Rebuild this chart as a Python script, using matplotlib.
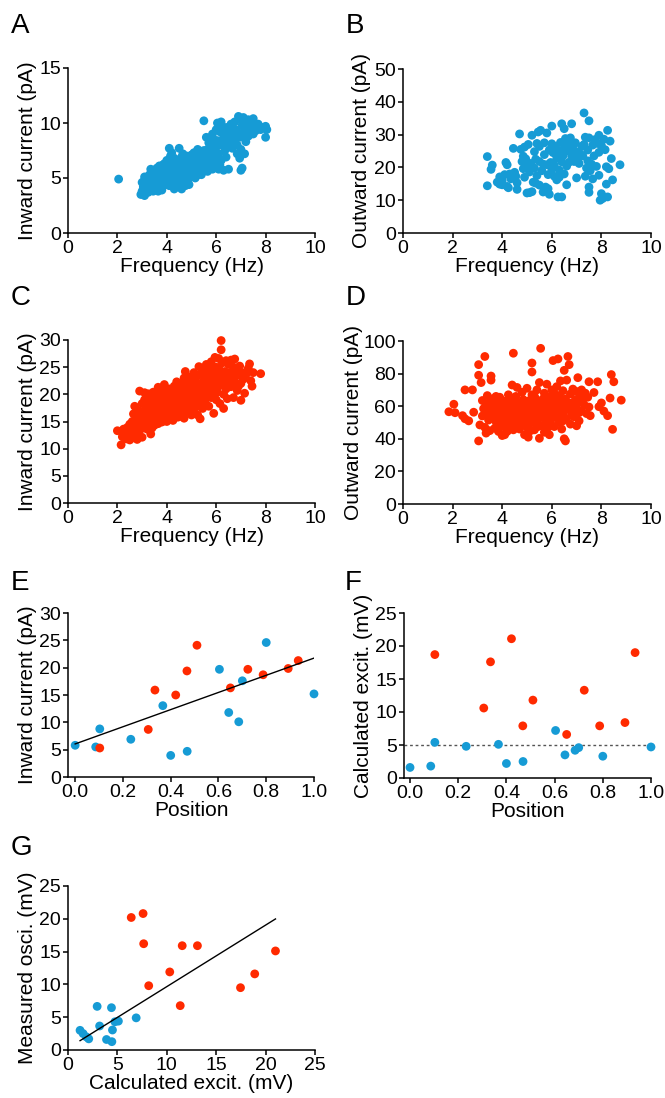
"""Frequency / position scatter panels A-G (blue = one cell type, red = the other)."""
import matplotlib
matplotlib.use("Agg")
import matplotlib.pyplot as plt
import numpy as np

plt.rcParams["font.family"] = ["Liberation Sans", "DejaVu Sans"]

BLUE = "#169bd5"
RED = "#ff2a00"

# ---- A: frequency (Hz) vs inward current (pA), blue
panel_a = [
    (2.05, 4.9),
    (2.95, 3.5), (3.0, 3.8), (3.05, 4.2), (3.1, 3.4), (3.0, 4.6), (3.1, 5.1), (3.15, 4.0), (3.2, 4.5),
    (3.25, 3.7), (3.3, 4.9), (3.3, 5.3), (3.35, 4.2), (3.4, 3.9), (3.4, 5.6), (3.45, 4.6), (3.5, 5.1),
    (3.5, 4.0), (3.2, 5.0), (3.35, 5.8), (3.45, 3.8), (3.1, 4.8), (3.55, 5.5),
    (3.6, 4.8), (3.6, 5.9), (3.65, 4.2), (3.7, 5.3), (3.7, 6.1), (3.75, 4.6), (3.8, 5.7), (3.8, 3.9),
    (3.85, 5.0), (3.9, 6.3), (3.9, 5.5), (3.95, 4.4), (4.0, 5.9), (4.0, 6.6), (3.65, 3.8), (3.75, 5.0),
    (3.85, 6.2), (3.95, 5.2), (3.55, 4.4), (3.7, 4.0), (3.8, 6.0), (4.0, 4.8),
    (4.05, 5.4), (4.05, 6.2), (4.1, 7.7), (4.1, 4.3), (4.15, 5.8), (4.15, 7.0), (4.2, 5.1), (4.2, 6.5),
    (4.25, 4.7), (4.25, 6.0), (4.3, 5.5), (4.3, 6.8), (4.35, 4.9), (4.35, 6.2), (4.4, 5.7), (4.4, 4.2),
    (4.45, 6.5), (4.45, 5.2), (4.5, 7.7), (4.5, 6.0), (4.5, 4.5), (4.1, 6.7), (4.3, 4.0), (4.2, 7.3),
    (4.55, 5.5), (4.6, 4.0), (4.6, 6.3), (4.65, 7.2), (4.65, 5.0), (4.7, 5.8), (4.7, 6.7), (4.75, 4.3),
    (4.75, 6.1), (4.8, 5.4), (4.8, 7.0), (4.85, 6.5), (4.85, 4.8), (4.9, 5.9), (4.9, 6.9), (4.95, 5.2),
    (5.0, 6.3), (5.0, 7.1), (4.6, 6.9), (4.7, 4.6), (4.9, 4.4), (5.0, 5.6),
    (5.05, 6.8), (5.1, 5.7), (5.1, 7.3), (5.15, 6.2), (5.2, 5.2), (5.2, 6.9), (5.25, 6.5), (5.3, 7.4),
    (5.3, 5.6), (5.35, 6.1), (5.4, 7.0), (5.4, 5.3), (5.45, 6.6), (5.5, 7.5), (5.5, 5.8), (5.5, 10.2),
    (5.15, 5.0), (5.25, 7.6), (5.35, 6.8), (5.45, 6.0),
    (5.55, 6.9), (5.6, 8.7), (5.6, 6.3), (5.65, 7.6), (5.7, 5.9), (5.7, 8.2), (5.75, 7.0), (5.8, 6.5),
    (5.8, 7.9), (5.85, 5.8), (5.9, 7.4), (5.9, 8.5), (5.95, 6.7), (6.0, 9.4), (6.0, 7.8), (6.0, 6.1),
    (5.65, 5.6), (5.85, 9.0),
    (6.05, 10.0), (6.05, 8.4), (6.1, 5.8), (6.1, 7.2), (6.15, 9.2), (6.2, 8.0), (6.2, 6.6), (6.25, 9.7),
    (6.3, 8.7), (6.3, 5.7), (6.35, 7.5), (6.35, 9.3), (6.4, 8.2), (6.4, 6.9), (6.45, 9.6), (6.5, 8.8),
    (6.5, 5.8), (6.2, 10.1), (6.45, 7.8), (6.15, 6.2),
    (6.55, 9.2), (6.6, 8.4), (6.6, 9.9), (6.65, 7.7), (6.7, 9.0), (6.75, 8.5), (6.75, 10.1), (6.8, 9.4),
    (6.85, 8.0), (6.85, 7.2), (6.9, 10.6), (6.9, 9.1), (6.95, 8.7), (7.0, 10.3), (7.0, 7.6), (7.0, 5.7),
    (6.65, 9.5), (6.95, 6.8),
    (7.05, 9.8), (7.05, 5.9), (7.1, 8.9), (7.1, 10.5), (7.15, 7.2), (7.15, 9.4), (7.2, 10.0), (7.2, 8.3),
    (7.25, 9.6), (7.3, 10.3), (7.3, 8.8), (7.35, 9.2), (7.4, 10.1), (7.45, 9.5), (7.5, 10.4), (7.5, 9.0),
    (7.55, 9.8), (7.6, 9.3), (7.7, 9.9), (7.8, 9.4), (7.9, 9.6), (8.0, 9.7), (8.0, 8.7), (8.05, 9.4),
]

# ---- B: frequency (Hz) vs outward current (pA), blue
panel_b = [
    (3.4, 23.3), (3.4, 14.4), (3.6, 20.7), (3.55, 19.4),
    (3.8, 15.5), (3.9, 17.1), (4.0, 16.0), (4.0, 14.7), (4.1, 17.8), (4.15, 21.5), (4.2, 20.8),
    (4.2, 14.2), (4.3, 18.0), (4.35, 16.5), (3.9, 14.9), (4.25, 13.8),
    (4.45, 25.8), (4.5, 18.5), (4.55, 17.3), (4.6, 15.3), (4.6, 13.3), (4.7, 30.2), (4.75, 25.5),
    (4.8, 21.8), (4.85, 19.6), (4.9, 26.2), (4.9, 17.0), (4.95, 22.6), (5.0, 12.2), (5.0, 20.3),
    (4.85, 23.4),
    (5.05, 27.0), (5.1, 18.6), (5.1, 12.3), (5.15, 21.2), (5.2, 29.8), (5.25, 15.5), (5.3, 19.8),
    (5.3, 24.8), (5.35, 22.5), (5.4, 27.3), (5.4, 17.5), (5.45, 30.8), (5.5, 14.6), (5.5, 21.8),
    (5.5, 26.4), (5.2, 12.6), (5.35, 15.2),
    (5.55, 31.3), (5.6, 19.0), (5.65, 12.5), (5.7, 23.9), (5.7, 27.5), (5.75, 14.0), (5.8, 20.8),
    (5.8, 30.5), (5.85, 17.8), (5.9, 25.3), (5.9, 11.8), (5.95, 21.5), (6.0, 27.2), (6.0, 19.5),
    (6.0, 32.6), (5.85, 13.5), (5.65, 21.0),
    (6.05, 24.5), (6.1, 17.3), (6.1, 20.6), (6.15, 26.4), (6.2, 22.8), (6.2, 16.2), (6.25, 11.0),
    (6.3, 25.0), (6.3, 19.2), (6.35, 27.6), (6.4, 33.3), (6.4, 21.7), (6.4, 11.0), (6.45, 23.5),
    (6.5, 26.8), (6.5, 18.0), (6.5, 31.8), (6.3, 17.0),
    (6.55, 28.8), (6.6, 25.0), (6.6, 14.7), (6.65, 27.6), (6.7, 21.6), (6.7, 26.2), (6.75, 29.0),
    (6.8, 33.3), (6.8, 23.4), (6.85, 26.5), (6.9, 21.8), (6.95, 27.5), (7.0, 16.8), (7.0, 24.6),
    (6.6, 20.4), (6.9, 25.0),
    (7.05, 22.4), (7.1, 21.2), (7.15, 24.1), (7.2, 26.4), (7.25, 23.5), (7.3, 36.6), (7.35, 29.2),
    (7.35, 17.3), (7.4, 19.8), (7.45, 25.3), (7.5, 34.2), (7.5, 14.0), (7.5, 12.4), (7.45, 22.0),
    (7.3, 27.0), (7.5, 29.0),
    (7.55, 19.0), (7.6, 21.0), (7.65, 26.8), (7.7, 23.5), (7.75, 28.5), (7.8, 20.3), (7.85, 27.3),
    (7.9, 29.8), (7.9, 24.6), (7.95, 10.0), (8.0, 26.7), (8.0, 12.0), (7.9, 17.6), (7.65, 16.5),
    (8.05, 10.5), (8.1, 28.6), (8.1, 11.0), (8.15, 25.4), (8.2, 14.9), (8.2, 20.2), (8.25, 31.3),
    (8.3, 19.6), (8.35, 28.0), (8.45, 16.2), (8.75, 20.8), (8.25, 11.0), (8.4, 22.7),
]

# ---- C: frequency (Hz) vs inward current (pA), red
panel_c = [
    (2.0, 13.3), (2.15, 10.7), (2.2, 12.2), (2.3, 12.8), (2.35, 11.8), (2.4, 13.9), (2.45, 12.4),
    (2.5, 14.5), (2.25, 13.6), (2.5, 11.6),
    (2.55, 13.2), (2.6, 15.0), (2.6, 12.0), (2.65, 16.4), (2.7, 17.8), (2.7, 13.5), (2.75, 14.6),
    (2.8, 11.7), (2.8, 15.8), (2.85, 13.0), (2.85, 17.0), (2.9, 20.6), (2.9, 14.2), (2.95, 16.2),
    (3.0, 12.1), (3.0, 18.3), (3.0, 15.3), (2.75, 12.6), (2.95, 13.6), (2.65, 14.0),
    (3.05, 16.8), (3.05, 14.1), (3.1, 19.0), (3.1, 20.3), (3.15, 15.5), (3.15, 17.6), (3.2, 13.6),
    (3.2, 18.8), (3.25, 16.2), (3.25, 20.1), (3.3, 14.7), (3.3, 17.3), (3.35, 12.7), (3.35, 19.4),
    (3.4, 15.8), (3.4, 18.2), (3.45, 20.4), (3.45, 16.6), (3.5, 14.3), (3.5, 17.8), (3.5, 19.8),
    (3.3, 15.9), (3.2, 16.9), (3.4, 13.8),
    (3.55, 15.3), (3.55, 18.7), (3.6, 16.5), (3.6, 20.2), (3.65, 17.4), (3.65, 14.6), (3.7, 19.3),
    (3.7, 15.8), (3.75, 18.0), (3.75, 21.0), (3.8, 16.9), (3.8, 14.9), (3.85, 19.7), (3.85, 17.8),
    (3.9, 21.8), (3.9, 15.6), (3.95, 18.6), (3.95, 16.3), (4.0, 20.5), (4.0, 17.2), (4.0, 15.0),
    (3.6, 18.0), (3.7, 17.0), (3.8, 19.0), (3.9, 18.1), (3.65, 21.3),
    (4.05, 19.0), (4.05, 16.1), (4.1, 18.2), (4.1, 21.0), (4.15, 15.5), (4.15, 17.5), (4.2, 20.2),
    (4.2, 16.8), (4.25, 18.7), (4.25, 15.2), (4.3, 21.5), (4.3, 17.9), (4.35, 19.6), (4.35, 16.4),
    (4.4, 22.3), (4.4, 18.4), (4.45, 15.8), (4.45, 20.5), (4.5, 17.2), (4.5, 19.3), (4.5, 21.3),
    (4.1, 19.6), (4.2, 18.0), (4.4, 17.0), (4.3, 15.9),
    (4.55, 16.0), (4.55, 18.6), (4.6, 20.4), (4.6, 22.0), (4.65, 17.4), (4.65, 19.5), (4.7, 15.6),
    (4.7, 21.1), (4.75, 18.2), (4.75, 24.2), (4.8, 16.8), (4.8, 20.0), (4.85, 22.5), (4.85, 18.9),
    (4.9, 17.6), (4.9, 21.4), (4.95, 19.7), (4.95, 23.2), (5.0, 18.3), (5.0, 20.8), (5.0, 16.2),
    (4.6, 18.0), (4.8, 19.2), (4.7, 23.0),
    (5.05, 22.2), (5.05, 19.2), (5.1, 24.0), (5.1, 17.3), (5.15, 20.6), (5.15, 21.8), (5.2, 18.5),
    (5.2, 23.3), (5.25, 16.2), (5.25, 20.1), (5.3, 25.1), (5.3, 22.0), (5.35, 18.9), (5.35, 15.5),
    (5.4, 21.3), (5.4, 23.8), (5.45, 19.8), (5.45, 17.4), (5.5, 22.6), (5.5, 24.6), (5.5, 20.5),
    (5.2, 19.6), (5.4, 20.4), (5.3, 17.8),
    (5.55, 18.6), (5.55, 23.3), (5.6, 21.2), (5.6, 25.5), (5.65, 19.7), (5.65, 22.4), (5.7, 24.4),
    (5.7, 17.8), (5.75, 20.8), (5.75, 23.0), (5.8, 26.0), (5.8, 19.4), (5.85, 22.0), (5.85, 24.8),
    (5.9, 20.3), (5.9, 16.5), (5.95, 23.6), (5.95, 26.8), (6.0, 21.6), (6.0, 25.0), (6.0, 19.0),
    (5.6, 20.0), (5.8, 21.7), (5.7, 22.8),
    (6.05, 23.0), (6.05, 20.4), (6.1, 24.8), (6.1, 26.6), (6.15, 21.6), (6.15, 18.3), (6.2, 23.7),
    (6.2, 29.9), (6.2, 28.2), (6.25, 22.2), (6.25, 25.8), (6.3, 20.0), (6.3, 17.4), (6.35, 24.2),
    (6.35, 22.6), (6.4, 26.2), (6.4, 21.0), (6.45, 23.4), (6.45, 19.2), (6.5, 25.5), (6.5, 22.0),
    (6.1, 22.5), (6.3, 23.8),
    (6.55, 24.0), (6.6, 26.3), (6.6, 21.4), (6.65, 23.2), (6.7, 19.4), (6.7, 25.0), (6.75, 26.5),
    (6.75, 22.3), (6.8, 24.3), (6.85, 20.7), (6.9, 23.5), (6.95, 25.2), (7.0, 22.0), (7.0, 18.9),
    (6.9, 21.5),
    (7.05, 24.0), (7.1, 22.8), (7.15, 20.2), (7.2, 23.6), (7.3, 24.8), (7.35, 25.6), (7.4, 22.5),
    (7.45, 21.5), (7.5, 24.0), (7.8, 23.8),
]

# ---- D: frequency (Hz) vs outward current (pA), red
panel_d = [
    (1.85, 56.6), (2.05, 61.2), (2.1, 56.0), (2.4, 54.2), (2.5, 52.3), (2.5, 70.0), (2.65, 51.0),
    (2.8, 70.0), (2.85, 56.3),
    (3.05, 85.5), (3.05, 79.0), (3.05, 38.7), (3.1, 48.5), (3.15, 74.5), (3.2, 63.5), (3.25, 58.5),
    (3.3, 90.5), (3.3, 47.0), (3.35, 43.5), (3.35, 60.5), (3.4, 55.5), (3.4, 66.5), (3.45, 51.5),
    (3.5, 62.5), (3.5, 45.0), (3.55, 78.5), (3.55, 76.0), (3.2, 54.0), (3.45, 58.0),
    (3.6, 64.5), (3.6, 53.0), (3.65, 57.5), (3.7, 46.5), (3.7, 60.0), (3.75, 50.5), (3.8, 63.0),
    (3.85, 55.0), (3.9, 65.5), (3.9, 48.5), (3.95, 58.5), (4.0, 52.5), (4.0, 42.0), (4.0, 61.0),
    (3.75, 66.0), (3.85, 44.5),
    (4.05, 56.0), (4.05, 47.5), (4.1, 63.0), (4.15, 50.0), (4.2, 59.0), (4.2, 44.5), (4.25, 54.5),
    (4.3, 61.5), (4.3, 48.0), (4.35, 57.0), (4.35, 65.0), (4.4, 51.5), (4.4, 73.0), (4.45, 92.5),
    (4.45, 45.5), (4.5, 60.0), (4.5, 55.0), (4.15, 58.0), (4.25, 67.0), (4.45, 63.5), (4.1, 42.5),
    (4.55, 49.0), (4.55, 66.0), (4.6, 57.5), (4.6, 71.5), (4.65, 52.0), (4.7, 62.0), (4.7, 46.0),
    (4.75, 59.5), (4.8, 54.0), (4.8, 68.5), (4.85, 49.5), (4.85, 64.0), (4.9, 57.0), (4.9, 42.5),
    (4.95, 61.0), (5.0, 52.5), (5.0, 71.0), (5.0, 47.0), (4.65, 55.0), (4.75, 51.0), (4.95, 55.5),
    (4.6, 61.5),
    (5.05, 58.5), (5.05, 41.0), (5.1, 63.5), (5.1, 49.5), (5.15, 55.0), (5.2, 86.5), (5.2, 81.0),
    (5.2, 67.0), (5.25, 52.0), (5.25, 60.0), (5.3, 45.5), (5.3, 57.0), (5.35, 64.5), (5.35, 50.0),
    (5.4, 70.0), (5.4, 55.5), (5.45, 61.0), (5.45, 47.5), (5.5, 40.3), (5.5, 74.5), (5.5, 58.5),
    (5.15, 45.0), (5.3, 66.0), (5.45, 52.5), (5.1, 59.0),
    (5.55, 95.5), (5.55, 53.0), (5.6, 62.5), (5.6, 48.0), (5.65, 57.0), (5.7, 68.0), (5.7, 44.0),
    (5.75, 60.0), (5.75, 51.5), (5.8, 55.0), (5.8, 73.5), (5.85, 63.5), (5.85, 47.0), (5.9, 58.0),
    (5.9, 42.5), (5.95, 66.0), (6.0, 52.5), (6.0, 61.0), (6.0, 70.0), (5.65, 64.5), (5.95, 49.5),
    (5.7, 56.0),
    (6.05, 88.0), (6.05, 56.0), (6.1, 64.0), (6.1, 47.5), (6.15, 59.5), (6.2, 53.0), (6.2, 72.0),
    (6.25, 89.0), (6.25, 61.5), (6.3, 50.0), (6.3, 66.5), (6.35, 57.0), (6.35, 75.5), (6.4, 63.0),
    (6.4, 46.0), (6.45, 55.0), (6.45, 69.5), (6.5, 82.0), (6.5, 40.0), (6.5, 60.5), (6.15, 67.0),
    (6.3, 58.5), (6.45, 51.0),
    (6.55, 38.7), (6.55, 64.5), (6.6, 52.5), (6.6, 76.0), (6.65, 90.5), (6.65, 58.0), (6.7, 85.5),
    (6.7, 62.0), (6.75, 49.0), (6.75, 67.5), (6.8, 56.0), (6.85, 61.5), (6.85, 70.5), (6.9, 53.5),
    (6.95, 64.0), (7.0, 58.5), (7.0, 48.0), (7.0, 69.0), (6.6, 60.0), (6.9, 59.0),
    (7.05, 77.5), (7.05, 62.0), (7.1, 51.0), (7.15, 66.0), (7.2, 57.0), (7.25, 64.5), (7.3, 61.0),
    (7.35, 68.0), (7.4, 55.5), (7.45, 65.5), (7.5, 75.0), (7.5, 59.5), (7.2, 70.0), (7.1, 56.0),
    (7.55, 54.2), (7.7, 68.4), (7.85, 75.0), (7.9, 59.7), (8.0, 62.0), (8.1, 57.0), (8.25, 54.2),
    (8.35, 65.0), (8.4, 79.4), (8.45, 45.8), (8.5, 75.0), (8.8, 63.7),
]

# ---- E / F: dendritic position (0..1) per recorded cell
e_pos_blue = [0.0, 0.086, 0.103, 0.233, 0.367, 0.40, 0.469, 0.604, 0.643, 0.685, 0.70, 0.80, 1.0]
e_inward_blue = [5.8, 5.5, 8.8, 6.9, 13.05, 3.95, 4.7, 19.7, 11.8, 10.1, 17.6, 24.6, 15.2]
e_pos_red = [0.103, 0.306, 0.334, 0.421, 0.468, 0.51, 0.65, 0.723, 0.787, 0.892, 0.934]
e_inward_red = [5.3, 8.7, 15.9, 15.0, 19.4, 24.1, 16.3, 19.7, 18.7, 19.85, 21.3]
e_fit = (15.7, 6.05)  # slope, intercept of the drawn regression line

f_excit_blue = [1.6, 1.8, 5.4, 4.8, 5.1, 2.2, 2.5, 7.2, 3.5, 4.2, 4.6, 3.3, 4.7]
f_excit_red = [18.7, 10.6, 17.6, 21.1, 7.9, 11.8, 6.6, 13.3, 7.9, 8.4, 19.0]
f_threshold = 5.0

# ---- G: calculated excitation vs measured oscillation (mV)
g_calc_blue = [1.22, 1.53, 1.86, 2.1, 2.95, 3.2, 3.9, 4.44, 4.4, 4.5, 4.75, 5.1, 6.9]
g_meas_blue = [3.0, 2.5, 2.0, 1.7, 6.65, 3.66, 1.6, 1.27, 6.45, 3.05, 4.3, 4.4, 4.9]
g_calc_red = [6.4, 7.6, 7.66, 8.17, 10.3, 11.36, 11.56, 13.1, 17.46, 18.9, 21.0]
g_meas_red = [20.2, 20.8, 16.2, 9.8, 11.9, 6.76, 15.9, 15.9, 9.5, 11.6, 15.1]
g_fit = (0.938, 0.28)

FIG_W, FIG_H = 665, 1098


def make_axes(fig, x0, y0, x1, y1):
    """Pixel box (left, top, right, bottom) -> axes."""
    ax = fig.add_axes([x0 / FIG_W, 1 - y1 / FIG_H, (x1 - x0) / FIG_W, (y1 - y0) / FIG_H])
    for side in ("top", "right"):
        ax.spines[side].set_visible(False)
    for side in ("left", "bottom"):
        ax.spines[side].set_linewidth(1.1)
    ax.tick_params(direction="out", length=3.5, width=1.1, labelsize=14, pad=1.5)
    return ax


def dots(ax, x, y, color):
    ax.scatter(x, y, s=40, color=color, edgecolors="none", clip_on=False, zorder=3)


fig = plt.figure(figsize=(FIG_W / 100, FIG_H / 100), dpi=100)
LABEL_FS = 15

boxes = {
    "A": (68, 68, 315, 233), "B": (403, 69, 651, 233),
    "C": (68, 340, 315, 503), "D": (403, 341, 651, 504),
    "E": (68, 613, 314, 777), "F": (404, 613, 651, 778),
    "G": (68, 886, 315, 1050),
}
letter_pos = {"A": (11, 33), "B": (346, 33), "C": (11, 305), "D": (346, 305),
              "E": (11, 590), "F": (345, 590), "G": (11, 855)}
for k, (lx, ly) in letter_pos.items():
    fig.text(lx / FIG_W, 1 - ly / FIG_H, k, fontsize=20, va="baseline", ha="left")

freq_ticks = np.arange(0, 11, 2)
pos_ticks = np.arange(0, 1.01, 0.2)

# A
ax = make_axes(fig, *boxes["A"])
x, y = zip(*panel_a)
dots(ax, x, y, BLUE)
ax.set_xlim(0, 10); ax.set_ylim(0, 15)
ax.set_xticks(freq_ticks); ax.set_yticks([0, 5, 10, 15])
ax.set_xlabel("Frequency (Hz)", fontsize=LABEL_FS, labelpad=0)
ax.set_ylabel("Inward current (pA)", fontsize=LABEL_FS, labelpad=2)

# B
ax = make_axes(fig, *boxes["B"])
x, y = zip(*panel_b)
dots(ax, x, y, BLUE)
ax.set_xlim(0, 10); ax.set_ylim(0, 50)
ax.set_xticks(freq_ticks); ax.set_yticks(np.arange(0, 51, 10))
ax.set_xlabel("Frequency (Hz)", fontsize=LABEL_FS, labelpad=0)
ax.set_ylabel("Outward current (pA)", fontsize=LABEL_FS, labelpad=2)

# C
ax = make_axes(fig, *boxes["C"])
x, y = zip(*panel_c)
dots(ax, x, y, RED)
ax.set_xlim(0, 10); ax.set_ylim(0, 30)
ax.set_xticks(freq_ticks); ax.set_yticks(np.arange(0, 31, 5))
ax.set_xlabel("Frequency (Hz)", fontsize=LABEL_FS, labelpad=0)
ax.set_ylabel("Inward current (pA)", fontsize=LABEL_FS, labelpad=2)

# D
ax = make_axes(fig, *boxes["D"])
x, y = zip(*panel_d)
dots(ax, x, y, RED)
ax.set_xlim(0, 10); ax.set_ylim(0, 100)
ax.set_xticks(freq_ticks); ax.set_yticks(np.arange(0, 101, 20))
ax.set_xlabel("Frequency (Hz)", fontsize=LABEL_FS, labelpad=0)
ax.set_ylabel("Outward current (pA)", fontsize=LABEL_FS, labelpad=0)

# E
ax = make_axes(fig, *boxes["E"])
dots(ax, e_pos_blue, e_inward_blue, BLUE)
dots(ax, e_pos_red, e_inward_red, RED)
xs = np.array([0.0, 1.0])
ax.plot(xs, e_fit[0] * xs + e_fit[1], color="black", lw=1.0, zorder=4)
ax.set_xlim(-0.03, 1.0); ax.set_ylim(0, 30)
ax.set_xticks(pos_ticks); ax.set_yticks(np.arange(0, 31, 5))
ax.set_xticklabels([f"{t:.1f}" for t in pos_ticks])
ax.set_xlabel("Position", fontsize=LABEL_FS, labelpad=0)
ax.set_ylabel("Inward current (pA)", fontsize=LABEL_FS, labelpad=2)

# F
ax = make_axes(fig, *boxes["F"])
dots(ax, e_pos_blue, f_excit_blue, BLUE)
dots(ax, e_pos_red, f_excit_red, RED)
ax.axhline(f_threshold, color="#555555", lw=1.0, linestyle=(0, (2, 2)), zorder=2)
ax.set_xlim(-0.025, 1.0); ax.set_ylim(0, 25)
ax.set_xticks(pos_ticks); ax.set_yticks(np.arange(0, 26, 5))
ax.set_xticklabels([f"{t:.1f}" for t in pos_ticks])
ax.set_xlabel("Position", fontsize=LABEL_FS, labelpad=0)
ax.set_ylabel("Calculated excit. (mV)", fontsize=LABEL_FS, labelpad=2)

# G
ax = make_axes(fig, *boxes["G"])
dots(ax, g_calc_blue, g_meas_blue, BLUE)
dots(ax, g_calc_red, g_meas_red, RED)
allx = np.array(g_calc_blue + g_calc_red)
xs = np.array([allx.min(), allx.max()])
ax.plot(xs, g_fit[0] * xs + g_fit[1], color="black", lw=1.0, zorder=4)
ax.set_xlim(0, 25); ax.set_ylim(0, 25)
ax.set_xticks(np.arange(0, 26, 5)); ax.set_yticks(np.arange(0, 26, 5))
ax.set_xlabel("Calculated excit. (mV)", fontsize=LABEL_FS, labelpad=0)
ax.set_ylabel("Measured osci. (mV)", fontsize=LABEL_FS, labelpad=2)

fig.savefig("out.png", dpi=100)
plt.close(fig)
